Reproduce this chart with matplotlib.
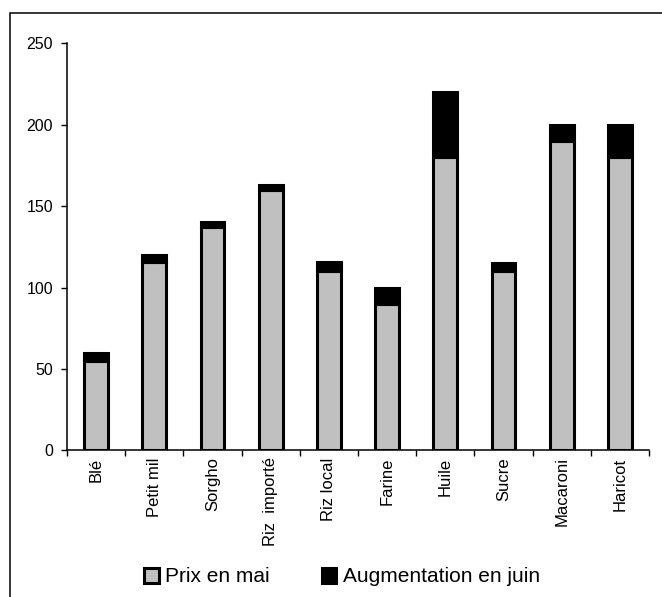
import matplotlib
matplotlib.use("Agg")
from matplotlib import pyplot as plt
from matplotlib.patches import Patch, Rectangle

plt.rcParams["font.family"] = ["Liberation Sans", "DejaVu Sans"]

categories = ["Blé", "Petit mil", "Sorgho", "Riz  importé", "Riz local",
              "Farine", "Huile", "Sucre", "Macaroni", "Haricot"]
prix_mai = [55, 116, 137, 160, 110, 90, 180, 110, 190, 180]
prix_juin = [60, 120, 140, 163, 116, 100, 220, 115, 200, 200]
augmentation = [j - m for m, j in zip(prix_mai, prix_juin)]
yticks = [0, 50, 100, 150, 200, 250]

gray = "#c0c0c0"
fig = plt.figure(figsize=(6.62, 5.97), dpi=100)
ax = fig.add_axes([0.1012, 0.2454, 0.8792, 0.6821])

x = list(range(len(categories)))
w = 0.41
ax.bar(x, prix_mai, w, color=gray, edgecolor="black", linewidth=2.2, zorder=3)
ax.bar(x, augmentation, w, bottom=prix_mai, color="black", edgecolor="black",
       linewidth=2.2, zorder=3)

ax.set_xlim(-0.5, len(categories) - 0.5)
ax.set_ylim(0, 250)
ax.set_yticks(yticks)
ax.tick_params(axis="y", direction="out", length=4, width=1, labelsize=11.5, pad=6)

# category labels centered, ticks at the boundaries
ax.set_xticks([i - 0.5 for i in range(len(categories) + 1)])
ax.set_xticklabels([])
ax.set_xticks(x, minor=True)
ax.set_xticklabels(categories, minor=True, rotation=90, fontsize=12)
ax.tick_params(axis="x", which="major", direction="out", length=4, width=1)
ax.tick_params(axis="x", which="minor", length=0, pad=5)

for s in ["top", "right"]:
    ax.spines[s].set_visible(False)
for s in ["left", "bottom"]:
    ax.spines[s].set_linewidth(1.1)

# outer chart frame (right and bottom cut off in the original)
fig.add_artist(Rectangle((10 / 662, -0.1), 1.2, 1 - 13 / 597 + 0.1,
                         transform=fig.transFigure, fill=False,
                         edgecolor="black", linewidth=1.1))

handles = [Patch(facecolor=gray, edgecolor="black", linewidth=2.2, label="Prix en mai"),
           Patch(facecolor="black", edgecolor="black", linewidth=2.2,
                 label="Augmentation en juin")]
fig.legend(handles=handles, loc="center", bbox_to_anchor=(342 / 662, 1 - 577 / 597),
           ncol=2, frameon=False, fontsize=15, handlelength=0.7, handleheight=0.7,
           handletextpad=0.3, columnspacing=2.5, borderpad=0)

fig.savefig("out.png", dpi=100)
